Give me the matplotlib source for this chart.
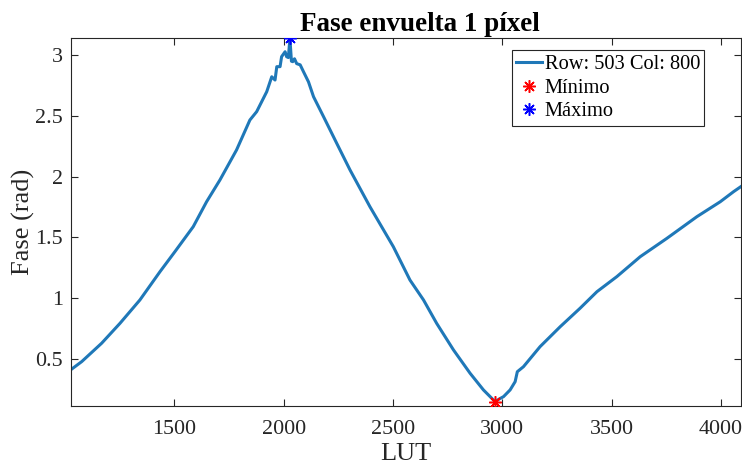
import matplotlib
matplotlib.use('Agg')
from matplotlib import pyplot as plt

# trace
lut = [1030, 1077, 1168, 1252, 1343, 1435, 1503, 1587, 1648, 1709, 1785, 1846,
       1877, 1923, 1946, 1961, 1969, 1984, 1991, 2007, 2014, 2022, 2029, 2036,
       2042, 2050, 2060, 2076, 2091, 2114, 2137, 2183, 2243, 2304, 2395, 2502,
       2578, 2640, 2700, 2777, 2853, 2914, 2945, 2967, 2985, 3006, 3036, 3059,
       3069, 3097, 3173, 3265, 3356, 3433, 3524, 3631, 3753, 3890, 3997, 4058,
       4091]
fase = [0.416, 0.479, 0.630, 0.794, 0.986, 1.219, 1.383, 1.589, 1.794, 1.973,
        2.220, 2.466, 2.535, 2.699, 2.822, 2.795, 2.905, 2.905, 2.987, 3.028,
        2.987, 2.980, 3.138, 2.950, 2.946, 2.970, 2.930, 2.920, 2.864, 2.780,
        2.658, 2.493, 2.275, 2.055, 1.753, 1.424, 1.150, 0.986, 0.794, 0.575,
        0.383, 0.246, 0.190, 0.150, 0.170, 0.191, 0.246, 0.314, 0.396, 0.437,
        0.602, 0.766, 0.918, 1.054, 1.178, 1.342, 1.493, 1.671, 1.794, 1.877,
        1.918]

x_min, y_min = 2967, 0.150
x_max, y_max = 2029, 3.138

xticks = [1500, 2000, 2500, 3000, 3500, 4000]
yticks = [0.5, 1, 1.5, 2, 2.5, 3]
ytick_labels = ['0.5', '1', '1.5', '2', '2.5', '3']

plt.rcParams['font.family'] = ['Liberation Serif', 'DejaVu Serif']
dark = '#262626'

fig = plt.figure(figsize=(7.42, 4.66), dpi=100)
ax = fig.add_axes([0.0957, 0.1288, 0.903, 0.7897])

ax.plot(lut, fase, color='#1f78b8', lw=2.2, label='Row: 503 Col: 800', zorder=2)
ast = (8, 2, 0)
ax.plot([x_min], [y_min], ls='none', marker=ast, ms=9, mew=1.1, color='red',
        label='Mínimo', zorder=3)
ax.plot([x_max], [y_max], ls='none', marker=ast, ms=9, mew=1.1, color='blue',
        label='Máximo', zorder=3)

ax.set_xlim(1028, 4092)
ax.set_ylim(0.114, 3.141)
ax.set_xticks(xticks)
ax.set_yticks(yticks)
ax.set_yticklabels(ytick_labels)

ax.tick_params(direction='in', top=True, right=True, length=5, width=0.8,
               colors=dark, labelsize=15.8, pad=6)
ax.tick_params(axis='x', pad=10)
for s in ax.spines.values():
    s.set_color(dark)
    s.set_linewidth(0.8)

ax.set_xlabel('LUT', fontsize=19, color=dark, labelpad=3)
ax.set_ylabel('Fase (rad)', fontsize=19, color=dark, labelpad=0)
ax.set_title('Fase envuelta 1 píxel', fontsize=19.5, fontweight='bold',
             x=0.521, pad=5)

leg = ax.legend(loc='upper right', bbox_to_anchor=(0.945, 0.966), fontsize=14.7,
                fancybox=False, framealpha=1, edgecolor=dark, borderpad=0.2,
                handlelength=1.25, handletextpad=0.15, labelspacing=0.22,
                borderaxespad=0)
leg.get_frame().set_linewidth(0.8)

plt.savefig('out.png', dpi=100)
